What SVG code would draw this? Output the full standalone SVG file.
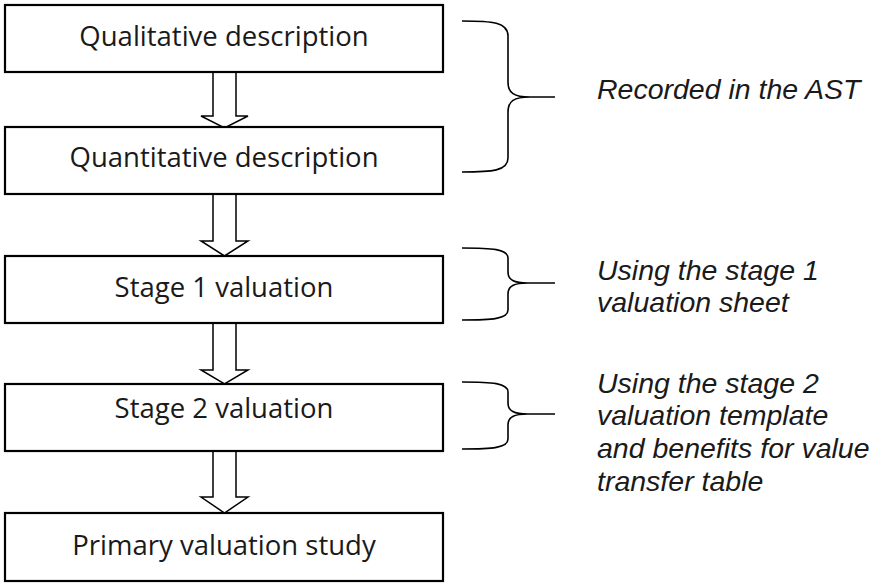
<svg xmlns="http://www.w3.org/2000/svg" width="874" height="585" viewBox="0 0 874 585">
<style>
.box{fill:#fff;stroke:#000;stroke-width:2.2}
.arr{fill:#fff;stroke:#000;stroke-width:1.5;stroke-linejoin:miter}
.brace{fill:none;stroke:#000;stroke-width:1.6}
.lbl{font-family:"Open Sans","Noto Sans",sans-serif;font-size:27.5px;fill:#1a1a1a;text-anchor:middle}
.note{font-family:"Liberation Sans",Arial,sans-serif;font-style:italic;font-size:28.5px;fill:#1a1a1a}
</style>
<rect width="874" height="585" fill="#fff"/>
<g id="connectors">
<polygon class="arr" points="213,72 236,72 236,116 248,116 224.5,128 201,116 213,116"/>
<polygon class="arr" points="213,194 236,194 236,241 248,241 224.5,256 201,241 213,241"/>
<polygon class="arr" points="213,323 236,323 236,370 248,370 224.5,384 201,370 213,370"/>
<polygon class="arr" points="213,451 236,451 236,497 248,497 224.5,513 201,497 213,497"/>
</g>
<g id="node-qualitative"><rect class="box" x="5" y="5" width="438" height="67"/><text class="lbl" x="224" y="46">Qualitative description</text></g>
<g id="node-quantitative"><rect class="box" x="5" y="127" width="438" height="67"/><text class="lbl" x="224" y="167">Quantitative description</text></g>
<g id="node-stage1"><rect class="box" x="5" y="256" width="438" height="67"/><text class="lbl" x="224" y="297">Stage 1 valuation</text></g>
<g id="node-stage2"><rect class="box" x="5" y="384" width="438" height="67"/><text class="lbl" x="224" y="418">Stage 2 valuation</text></g>
<g id="node-primary"><rect class="box" x="5" y="513" width="438" height="68"/><text class="lbl" x="224" y="555">Primary valuation study</text></g>
<g id="brace-ast">
<path class="brace" d="M462,21 C492,21 508,22 508,36 L508,82 C508,93 514,97 530,97 L555,97 M530,97 C514,97 508,101 508,112 L508,158 C508,171 492,172 462,172"/>
<text class="note" x="597" y="99">Recorded in the AST</text>
</g>
<g id="brace-stage1">
<path class="brace" d="M462,248 C492,248 508,249 508,258 L508,272 C508,280 514,283 528,283 L555,283 M528,283 C514,283 508,286 508,294 L508,310 C508,319 492,320 462,320"/>
<text class="note" x="597" y="280">Using the stage 1</text>
<text class="note" x="597" y="312">valuation sheet</text>
</g>
<g id="brace-stage2">
<path class="brace" d="M462,382 C492,382 508,383 508,392 L508,403 C508,411 514,414 528,414 L555,414 M528,414 C514,414 508,417 508,425 L508,439 C508,448 492,449 462,449"/>
<text class="note" x="597" y="393">Using the stage 2</text>
<text class="note" x="597" y="425">valuation template</text>
<text class="note" x="597" y="458">and benefits for value</text>
<text class="note" x="597" y="491">transfer table</text>
</g>
</svg>
